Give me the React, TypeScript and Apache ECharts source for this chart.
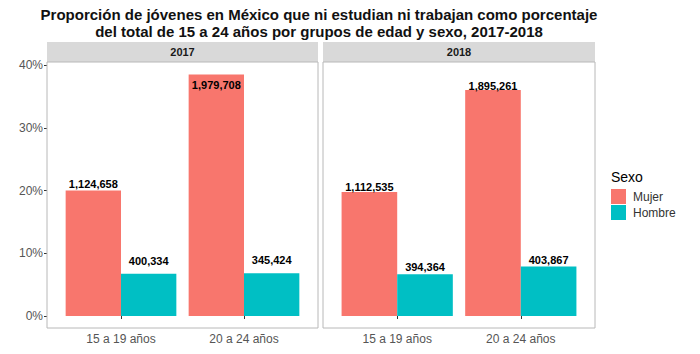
import React, { useEffect, useRef } from "react";
import * as echarts from "echarts";

const categories = ["15 a 19 años", "20 a 24 años"];
const years = ["2017", "2018"];
const sexes = ["Mujer", "Hombre"];
// percentages
const mujer2017 = [20.0, 38.5];
const hombre2017 = [6.75, 6.8];
const mujer2018 = [19.75, 36.0];
const hombre2018 = [6.65, 7.9];
// absolute counts shown as labels
const mujer2017Count = ["1,124,658", "1,979,708"];
const hombre2017Count = ["400,334", "345,424"];
const mujer2018Count = ["1,112,535", "1,895,261"];
const hombre2018Count = ["394,364", "403,867"];
const yTicks = [0, 10, 20, 30, 40];

// label offsets (styling)
const labelDist = {
  m17: [1, 5],
  h17: [7, 8],
  m18: [0, -1],
  h18: [2, 1],
};

const FONT = "'Liberation Sans', Arial, sans-serif";
const COL_M = "#F8766D";
const COL_H = "#00BFC4";

export default function App() {
  const ref = useRef<HTMLDivElement>(null);
  useEffect(() => {
    if (!ref.current) return;
    const chart = echarts.init(ref.current, null, { renderer: "svg" });

    const panels = [
      { x0: 47, x1: 318, gl: 59.5, gw: 246 },
      { x0: 323, x1: 595, gl: 335.4, gw: 247.2 },
    ];
    const top = 65;
    const height = 251;

    const mkSeries = (
      name: string,
      idx: number,
      values: number[],
      counts: string[],
      dist: number[],
      color: string,
      insideTopIdx: number[] = []
    ) => ({
      name,
      type: "bar",
      xAxisIndex: idx,
      yAxisIndex: idx,
      barGap: "0%",
      barCategoryGap: "10%",
      itemStyle: { color },
      data: values.map((v, i) => ({
        value: v,
        label: {
          show: true,
          position: insideTopIdx.includes(i) ? "insideTop" : "top",
          distance: dist[i],
          formatter: () => counts[i],
          fontFamily: FONT,
          fontWeight: "bold",
          fontSize: 11,
          color: "#000",
        },
      })),
    });

    const graphics: any[] = [];
    panels.forEach((p, i) => {
      graphics.push({
        type: "rect",
        shape: { x: p.x0, y: 62, width: p.x1 - p.x0, height: 266 },
        style: { fill: "none", stroke: "#b8b8b8", lineWidth: 1 },
        z: 10,
      });
      graphics.push({
        type: "rect",
        shape: { x: p.x0, y: 42, width: p.x1 - p.x0, height: 20 },
        style: { fill: "#d9d9d9", stroke: "none" },
      });
      graphics.push({
        type: "text",
        x: (p.x0 + p.x1) / 2,
        y: 52,
        style: {
          text: years[i],
          fontFamily: FONT,
          fontWeight: "bold",
          fontSize: 11,
          fill: "#1a1a1a",
          align: "center",
          verticalAlign: "middle",
        },
      });
    });
    graphics.push({
      type: "text",
      x: 611,
      y: 177,
      style: {
        text: "Sexo",
        fontFamily: FONT,
        fontSize: 14,
        fill: "#000",
        align: "left",
        verticalAlign: "middle",
      },
    });

    const option: any = {
      animation: false,
      backgroundColor: "#fff",
      title: {
        text:
          "Proporción de jóvenes en México que ni estudian ni trabajan como porcentaje\ndel total de 15 a 24 años por grupos de edad y sexo, 2017-2018",
        left: 319,
        top: 6,
        padding: 0,
        textAlign: "center",
        textStyle: {
          fontFamily: FONT,
          fontWeight: "bold",
          fontSize: 15,
          lineHeight: 17,
          color: "#111",
        },
      },
      legend: {
        data: sexes,
        orient: "vertical",
        left: 611,
        top: 189,
        padding: 0,
        itemWidth: 15,
        itemHeight: 15,
        itemGap: 1,
        icon: "rect",
        textStyle: { fontFamily: FONT, fontSize: 12, color: "#333", padding: [0, 0, 0, 2] },
      },
      grid: panels.map((p) => ({
        left: p.gl,
        width: p.gw,
        top,
        height,
        containLabel: false,
      })),
      xAxis: panels.map((_, i) => ({
        type: "category",
        gridIndex: i,
        data: categories,
        offset: 12,
        axisLine: { show: false },
        axisTick: {
          show: true,
          alignWithLabel: true,
          length: 3,
          lineStyle: { color: "#333" },
        },
        axisLabel: {
          fontFamily: FONT,
          fontSize: 12,
          color: "#555",
          margin: 5,
        },
        splitLine: { show: false },
      })),
      yAxis: panels.map((p, i) => ({
        type: "value",
        gridIndex: i,
        min: yTicks[0],
        max: yTicks[yTicks.length - 1],
        interval: 10,
        offset: i === 0 ? p.gl - p.x0 : 0,
        axisLine: { show: false },
        axisTick: {
          show: i === 0,
          length: 3,
          lineStyle: { color: "#333" },
        },
        axisLabel: {
          show: i === 0,
          formatter: "{value}%",
          fontFamily: FONT,
          fontSize: 12,
          color: "#555",
          margin: 4,
        },
        splitLine: { show: false },
      })),
      series: [
        mkSeries("Mujer", 0, mujer2017, mujer2017Count, labelDist.m17, COL_M, [1]),
        mkSeries("Hombre", 0, hombre2017, hombre2017Count, labelDist.h17, COL_H),
        mkSeries("Mujer", 1, mujer2018, mujer2018Count, labelDist.m18, COL_M),
        mkSeries("Hombre", 1, hombre2018, hombre2018Count, labelDist.h18, COL_H),
      ],
      graphic: graphics,
    };
    chart.setOption(option);
    return () => chart.dispose();
  }, []);
  return (
    <div
      ref={ref}
      style={{ position: "fixed", left: 0, top: 0, width: 700, height: 354 }}
    />
  );
}
